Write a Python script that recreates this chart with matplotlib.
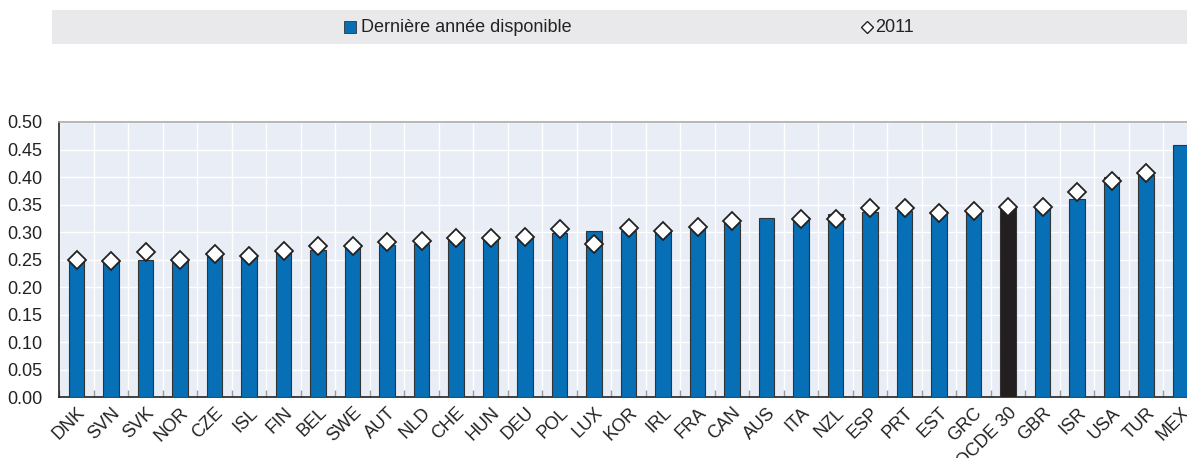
import matplotlib
matplotlib.use("Agg")
import matplotlib.pyplot as plt
from matplotlib.patches import Rectangle
from matplotlib.lines import Line2D
import numpy as np

plt.rcParams['font.family'] = ['Liberation Sans Narrow', 'Liberation Sans', 'DejaVu Sans']

# données
countries = ["DNK", "SVN", "SVK", "NOR", "CZE", "ISL", "FIN", "BEL", "SWE", "AUT",
             "NLD", "CHE", "HUN", "DEU", "POL", "LUX", "KOR", "IRL", "FRA", "CAN",
             "AUS", "ITA", "NZL", "ESP", "PRT", "EST", "GRC", "OCDE 30", "GBR", "ISR",
             "USA", "TUR", "MEX"]
latest = [0.250, 0.248, 0.250, 0.251, 0.257, 0.257, 0.263, 0.268, 0.274, 0.277,
          0.278, 0.287, 0.288, 0.291, 0.298, 0.302, 0.302, 0.304, 0.308, 0.316,
          0.326, 0.328, 0.333, 0.337, 0.339, 0.338, 0.340, 0.346, 0.350, 0.360,
          0.401, 0.403, 0.458]
y2011 = [0.250, 0.248, 0.263, 0.249, 0.261, 0.257, 0.265, 0.274, 0.274, 0.282,
         0.283, 0.289, 0.289, 0.291, 0.306, 0.279, 0.308, 0.302, 0.310, 0.321,
         np.nan, 0.324, 0.323, 0.343, 0.344, 0.334, 0.338, 0.345, 0.345, 0.372,
         0.392, 0.408, np.nan]
yticks = [0.00, 0.05, 0.10, 0.15, 0.20, 0.25, 0.30, 0.35, 0.40, 0.45, 0.50]

blue = "#076fb6"
dark = "#231f20"
bg = "#e9edf6"

W, H = 1187, 458
fig = plt.figure(figsize=(W / 100, H / 100), dpi=100)

# axes: gauche 59px, haut 122px, bas 397px (coupé à droite comme l'original)
left, top, bottom = 59.3, 122, 397.3
step = 34.5
width_px = step * len(countries)
ax = fig.add_axes([left / W, 1 - bottom / H, width_px / W, (bottom - top) / H])
ax.set_facecolor(bg)

x = np.arange(len(countries))
colors = [dark if c == "OCDE 30" else blue for c in countries]
ax.bar(x, latest, width=0.44, color=colors, edgecolor="#333333", linewidth=0.8, zorder=3)
ax.plot(x, y2011, linestyle="none", marker="D", markersize=9.5, markerfacecolor="white",
        markeredgecolor="#222222", markeredgewidth=1.3, zorder=4)

ax.set_xlim(-0.5, len(countries) - 0.5)
ax.set_ylim(0, 0.5)
ax.set_yticks(yticks)
ax.set_yticklabels([f"{v:.2f}" for v in yticks], fontsize=13, color="#222222")
ax.tick_params(axis="y", length=0, pad=12)

ax.set_xticks(x)
ax.set_xticklabels(countries, rotation=45, ha="right", rotation_mode="anchor",
                   fontsize=13, color="#222222")
ax.tick_params(axis="x", length=0, pad=5)
ax.set_xticks(np.arange(len(countries) + 1) - 0.5, minor=True)
ax.tick_params(axis="x", which="minor", direction="in", length=5, color="#999999", width=1)

ax.grid(axis="y", color="white", linewidth=1, zorder=0)
ax.grid(axis="x", which="minor", color="white", linewidth=1, zorder=0)
ax.set_axisbelow(True)

for s in ["left", "bottom"]:
    ax.spines[s].set_color("#222222")
    ax.spines[s].set_linewidth(1.2)
ax.spines["top"].set_color("#aaaaaa")
ax.spines["top"].set_linewidth(1.2)
ax.spines["right"].set_visible(False)

# légende
fig.patches.append(Rectangle((52 / W, 1 - 44 / H), (W - 52) / W, 34 / H,
                             transform=fig.transFigure, facecolor="#e9e9eb",
                             edgecolor="none", zorder=0))
fig.lines.append(Line2D([350 / W], [1 - 27 / H], marker="s", markersize=8,
                        markerfacecolor=blue, markeredgecolor="#333333",
                        markeredgewidth=0.6, transform=fig.transFigure))
fig.text(361 / W, 1 - 27 / H, "Dernière année disponible", fontsize=13,
         va="center", ha="left", color="#222222")
fig.lines.append(Line2D([867 / W], [1 - 27 / H], marker="D", markersize=6,
                        markerfacecolor="white", markeredgecolor="#222222",
                        markeredgewidth=1, transform=fig.transFigure))
fig.text(875 / W, 1 - 27 / H, "2011", fontsize=13, va="center", ha="left", color="#222222")

fig.savefig("out.png", dpi=100)
